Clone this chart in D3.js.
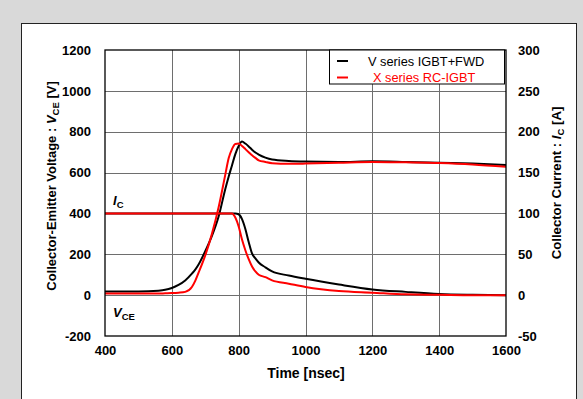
<!DOCTYPE html>
<html>
<head>
<meta charset="utf-8">
<script src="https://cdn.jsdelivr.net/npm/d3@7"></script>
<style>
  body { margin: 0; background: #d9d9d9; }
  svg { display: block; font-family: "Liberation Sans", Arial, sans-serif; }
</style>
</head>
<body>
<svg width="583" height="399"></svg>
<script>
// time axis [nsec]
const timeNs = [400, 500, 560, 580, 600, 620, 640, 660, 670, 680, 700, 720, 740, 760, 770, 780, 790,
  800, 810, 820, 830, 840, 850, 860, 880, 900, 950, 1000, 1100, 1200, 1300, 1400, 1500, 1600];

// V series IGBT+FWD (black)
const vceV = [18, 18, 22, 26, 35, 50, 72, 105, 125, 150, 215, 290, 385, 520, 580, 635, 690,
  730, 752, 742, 728, 712, 698, 688, 673, 664, 657, 654, 652, 655, 652, 648, 644, 637];
const icV = [100, 100, 100, 100, 100, 100, 100, 100, 100, 100, 100, 100, 100, 100, 100, 100, 100,
  99, 93, 81, 65, 51, 45, 40, 34, 29, 24, 20, 13, 7, 4, 1.5, 0.5, 0];

// X series RC-IGBT (red)
const vceX = [8, 8, 8, 9, 10, 12, 16, 40, 70, 110, 195, 300, 430, 590, 670, 715, 740,
  742, 730, 715, 700, 685, 672, 660, 652, 646, 643, 644, 648, 652, 650, 647, 640, 628];
const icX = [100, 100, 100, 100, 100, 100, 100, 100, 100, 100, 100, 100, 100, 100, 100, 100, 95,
  84, 68, 55, 44, 35, 29, 25, 22, 18, 14, 10, 5, 3, 1, 0.5, 0, 0];

const xTicks = [400, 600, 800, 1000, 1200, 1400, 1600];
const vTicks = [-200, 0, 200, 400, 600, 800, 1000, 1200];
const iTicks = [-50, 0, 50, 100, 150, 200, 250, 300];

const legendLabels = ['V series IGBT+FWD', 'X series RC-IGBT'];
const legendColors = ['#000000', '#ff0000'];

const svg = d3.select('svg');

// white panel
svg.append('rect')
  .attr('x', 21.5).attr('y', 23.5)
  .attr('width', 555).attr('height', 400)
  .attr('fill', '#fff')
  .attr('stroke', '#222');

const mLeft = 105, mRight = 506, mTop = 50, mBottom = 336;

const x = d3.scaleLinear().domain([400, 1600]).range([mLeft, mRight]);
const yV = d3.scaleLinear().domain([-200, 1200]).range([mBottom, mTop]);
const yI = d3.scaleLinear().domain([-50, 300]).range([mBottom, mTop]);

// grid
const grid = svg.append('g').attr('stroke', '#6e6e6e').attr('stroke-width', 1);
grid.selectAll('.vx').data(xTicks.slice(1, -1)).enter().append('line')
  .attr('x1', d => Math.round(x(d)) + 0.5).attr('x2', d => Math.round(x(d)) + 0.5)
  .attr('y1', mTop).attr('y2', mBottom);
grid.selectAll('.hy').data(vTicks.slice(1, -1)).enter().append('line')
  .attr('y1', d => Math.round(yV(d)) + 0.5).attr('y2', d => Math.round(yV(d)) + 0.5)
  .attr('x1', mLeft).attr('x2', mRight);

// axes (labels only)
const plain = d => String(d);
const tickFont = g => g.call(g => g.select('.domain').remove())
  .selectAll('text')
    .attr('font-size', '13px')
    .attr('font-weight', 'bold')
    .attr('fill', '#000')
    .attr('font-family', '"Liberation Sans", Arial, sans-serif');

svg.append('g')
  .attr('transform', `translate(0,${mBottom})`)
  .call(d3.axisBottom(x).tickValues(xTicks).tickFormat(plain).tickSize(0).tickPadding(10))
  .call(tickFont);

svg.append('g')
  .attr('transform', `translate(${mLeft},0)`)
  .call(d3.axisLeft(yV).tickValues(vTicks).tickFormat(plain).tickSize(0).tickPadding(14))
  .call(tickFont);

svg.append('g')
  .attr('transform', `translate(${mRight},0)`)
  .call(d3.axisRight(yI).tickValues(iTicks).tickFormat(plain).tickSize(0).tickPadding(12))
  .call(tickFont);

// curves
const lineV = d3.line().x((d, i) => x(timeNs[i])).y(d => yV(d)).curve(d3.curveMonotoneX);
const lineI = d3.line().x((d, i) => x(timeNs[i])).y(d => yI(d)).curve(d3.curveMonotoneX);

const series = [
  { values: vceV, line: lineV, color: '#000' },
  { values: icV, line: lineI, color: '#000' },
  { values: vceX, line: lineV, color: '#ff0000' },
  { values: icX, line: lineI, color: '#ff0000' }
];

svg.append('g').selectAll('path').data(series).enter().append('path')
  .attr('d', d => d.line(d.values))
  .attr('fill', 'none')
  .attr('stroke', d => d.color)
  .attr('stroke-width', 2);

// plot border
svg.append('rect')
  .attr('x', mLeft).attr('y', mTop)
  .attr('width', mRight - mLeft).attr('height', mBottom - mTop)
  .attr('fill', 'none').attr('stroke', '#000').attr('stroke-width', 1.3);

// legend
const legend = svg.append('g');
legend.append('rect')
  .attr('x', 329.5).attr('y', mTop).attr('width', 175).attr('height', 34)
  .attr('fill', '#fff').attr('stroke', '#000');
legendLabels.forEach((label, i) => {
  const ly = 61 + i * 16.5;
  legend.append('line')
    .attr('x1', 337).attr('x2', 348).attr('y1', ly).attr('y2', ly)
    .attr('stroke', legendColors[i]).attr('stroke-width', 2);
  legend.append('text')
    .attr('x', i === 0 ? 368 : 373).attr('y', ly + 4.5)
    .attr('font-size', '12.8px')
    .attr('fill', legendColors[i])
    .text(label);
});

// axis titles
svg.append('text')
  .attr('transform', `translate(56,186) rotate(-90)`)
  .attr('text-anchor', 'middle')
  .attr('font-size', '13px').attr('font-weight', 'bold')
  .call(t => {
    t.append('tspan').text('Collector-Emitter Voltage : ');
    t.append('tspan').attr('font-style', 'italic').text('V');
    t.append('tspan').attr('font-size', '9.5px').attr('dy', 3).text('CE');
    t.append('tspan').attr('dy', -3).text(' [V]');
  });

svg.append('text')
  .attr('transform', `translate(561,183) rotate(-90)`)
  .attr('text-anchor', 'middle')
  .attr('font-size', '13.2px').attr('font-weight', 'bold')
  .call(t => {
    t.append('tspan').text('Collector Current : ');
    t.append('tspan').attr('font-style', 'italic').text('I');
    t.append('tspan').attr('font-size', '9.5px').attr('dy', 3).text('C');
    t.append('tspan').attr('dy', -3).text(' [A]');
  });

svg.append('text')
  .attr('x', 306).attr('y', 378)
  .attr('text-anchor', 'middle')
  .attr('font-size', '14px').attr('font-weight', 'bold')
  .text('Time [nsec]');

// curve annotations
svg.append('text')
  .attr('x', 113).attr('y', 205)
  .attr('font-size', '13px').attr('font-weight', 'bold')
  .call(t => {
    t.append('tspan').attr('font-style', 'italic').text('I');
    t.append('tspan').attr('font-size', '9.5px').attr('dy', 3).text('C');
  });

svg.append('text')
  .attr('x', 113).attr('y', 317)
  .attr('font-size', '13px').attr('font-weight', 'bold')
  .call(t => {
    t.append('tspan').attr('font-style', 'italic').text('V');
    t.append('tspan').attr('font-size', '9.5px').attr('dy', 3).text('CE');
  });
</script>
</body>
</html>
